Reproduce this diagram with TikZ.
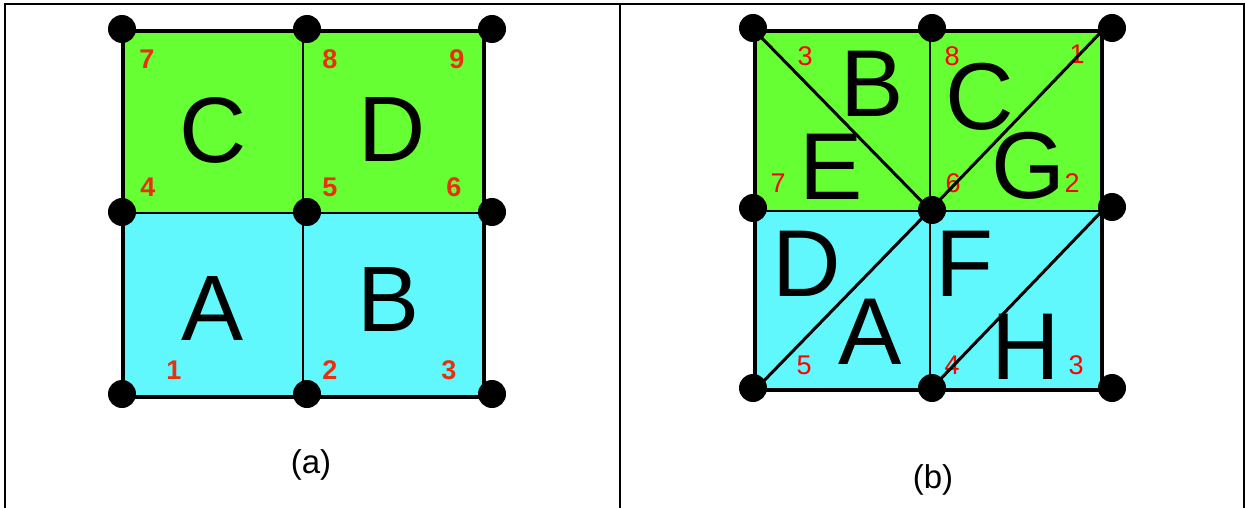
\documentclass[tikz,border=0pt]{standalone}
\usepackage{fontspec}
\setmainfont{Liberation Sans}
\definecolor{gfill}{RGB}{102,255,51}
\definecolor{cfill}{RGB}{96,248,252}
\definecolor{numreda}{RGB}{232,48,16}
\definecolor{numredb}{RGB}{255,0,0}
\begin{document}
\begin{tikzpicture}[x=1pt,y=-1pt,
  dot/.style={circle, fill=black, inner sep=0pt, minimum size=28pt},
  big/.style={font=\fontsize{93}{93}\selectfont, inner sep=0pt},
  bigb/.style={font=\fontsize{95}{95}\selectfont, inner sep=0pt},
  numa/.style={font=\fontsize{27}{27}\selectfont\bfseries, text=numreda, inner sep=0pt},
  numb/.style={font=\fontsize{27}{27}\selectfont, text=numredb, inner sep=0pt},
  frameline/.style={line width=2.5pt},
  outer/.style={line width=4pt, line join=miter},
  inner/.style={line width=2pt},
  diag/.style={line width=3pt},
  captxt/.style={font=\fontsize{33}{33}\selectfont, inner sep=0pt}]
\useasboundingbox (0,0) rectangle (1245,508);
\fill[white] (0,0) rectangle (1245,508);
% frame
\draw[frameline] (5,508) -- (5,4) -- (1244,4) -- (1244,508);
\draw[frameline] (620,4) -- (620,508);

% ---------- panel (a) ----------
\fill[gfill] (123,31) rectangle (484,213);
\fill[cfill] (123,213) rectangle (484,397);
\node[big] (aC) at (213,130) {C};
\node[big] (aD) at (392,130) {D};
\node[big] (aA) at (213,309) {A};
\node[big] (aB) at (389,300) {B};
\node[numa] (n7) at (147,59) {7};
\node[numa] (n8) at (330,59) {8};
\node[numa] (n9) at (457,59) {9};
\node[numa] (n4) at (148,187) {4};
\node[numa] (n5) at (330,187) {5};
\node[numa] (n6) at (454,187) {6};
\node[numa] (n1) at (174,370) {1};
\node[numa] (n2) at (330,370) {2};
\node[numa] (n3) at (449,370) {3};
\draw[inner] (303,31) -- (303,397);
\draw[inner] (123,213) -- (484,213);
\draw[outer] (123,31) rectangle (484,397);
\node[dot] (a11) at (122,29) {};
\node[dot] (a12) at (307,29) {};
\node[dot] (a13) at (492,29) {};
\node[dot] (a21) at (122,212) {};
\node[dot] (a22) at (307,212) {};
\node[dot] (a23) at (492,212) {};
\node[dot] (a31) at (122,394) {};
\node[dot] (a32) at (307,394) {};
\node[dot] (a33) at (492,394) {};
\node[captxt] (capa) at (311,465) {(a)};

% ---------- panel (b) ----------
\coordinate (tl) at (755,31);
\coordinate (tr) at (1102,31);
\coordinate (ml) at (755,211);
\coordinate (mc) at (930,210);
\coordinate (mr) at (1102,211);
\coordinate (bl) at (755,390);
\coordinate (bm) at (930,390);
\fill[gfill] (tl) rectangle (mr);
\fill[cfill] (ml) rectangle (1102,390);
\node[bigb] (bB) at (872,84) {B};
\node[bigb] (bC) at (980,97) {C};
\node[bigb] (bE) at (831,167) {E};
\node[bigb] (bG) at (1028,166) {G};
\node[bigb] (bD) at (807,264) {D};
\node[bigb] (bF) at (965,264) {F};
\node[bigb] (bA) at (870,332) {A};
\node[bigb] (bH) at (1026,347) {H};
\node[numb] (m3) at (805,56) {3};
\node[numb] (m8) at (952,56) {8};
\node[numb] (m1) at (1077,54) {1};
\node[numb] (m7) at (778,183) {7};
\node[numb] (m6) at (953,183) {6};
\node[numb] (m2) at (1072,183) {2};
\node[numb] (m5) at (804,365) {5};
\node[numb] (m4) at (952,365) {4};
\node[numb] (m3b) at (1076,365) {3};
\draw[inner] (930,31) -- (bm);
\draw[inner] (ml) -- (mr);
\draw[diag] (tl) -- (mc);
\draw[diag] (mc) -- (tr);
\draw[diag] (mc) -- (bl);
\draw[diag] (mr) -- (bm);
\draw[outer] (tl) rectangle (1102,390);
\node[dot] (b11) at (753,28) {};
\node[dot] (b12) at (932,28) {};
\node[dot] (b13) at (1112,28) {};
\node[dot] (b21) at (753,208) {};
\node[dot] (b22) at (932,210) {};
\node[dot] (b23) at (1112,207) {};
\node[dot] (b31) at (753,388) {};
\node[dot] (b32) at (932,388) {};
\node[dot] (b33) at (1112,388) {};
\node[captxt] (capb) at (933,480) {(b)};
\end{tikzpicture}
\end{document}
